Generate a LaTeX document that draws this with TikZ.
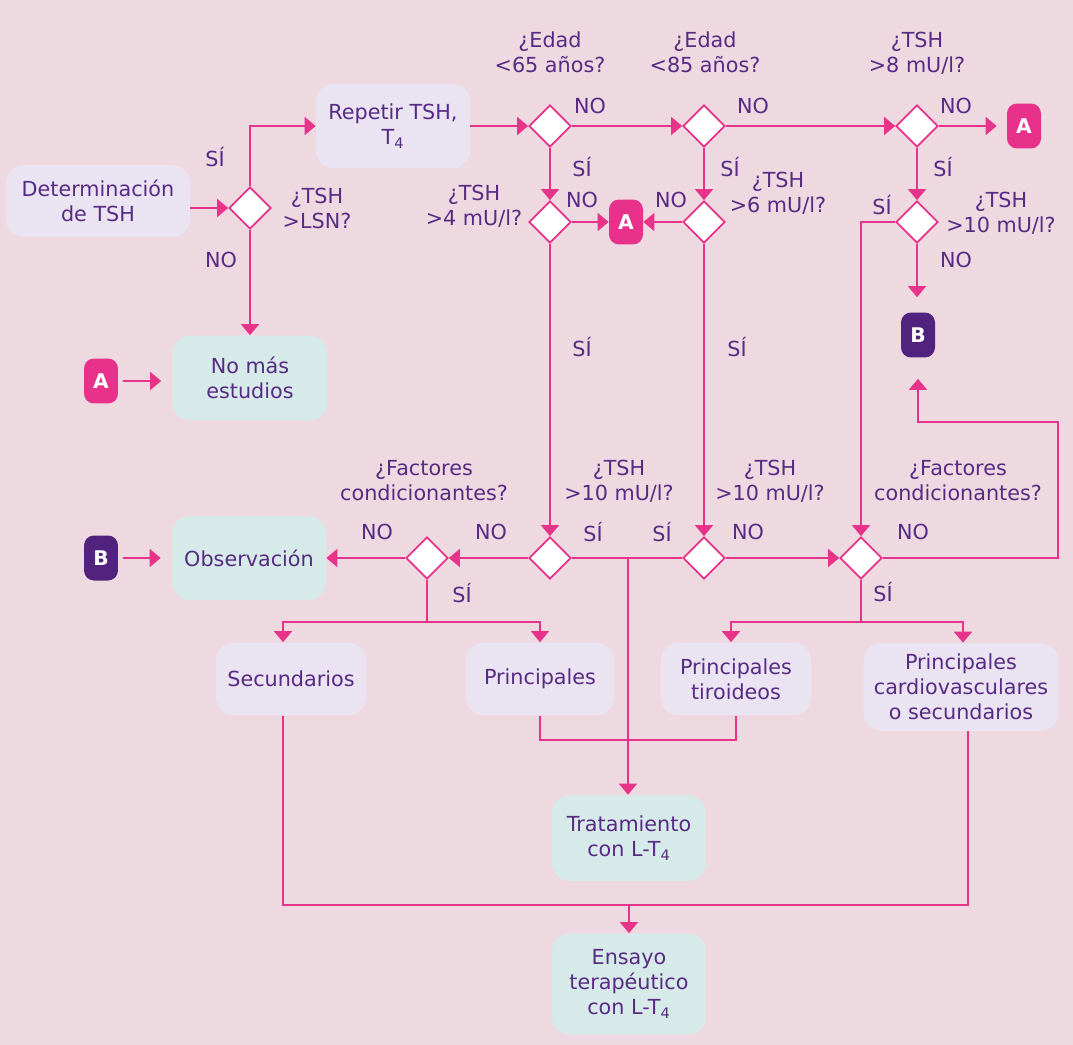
\documentclass[tikz,border=0pt]{standalone}
\usepackage{fontspec}
\setmainfont{DejaVu Sans}
\usetikzlibrary{shapes.geometric,arrows.meta}
\definecolor{bg}{HTML}{EFD9E1}
\definecolor{boxp}{HTML}{EAE4F2}
\definecolor{boxt}{HTML}{D6EBE9}
\definecolor{txt}{HTML}{582A84}
\definecolor{ln}{HTML}{E8338A}
\definecolor{badA}{HTML}{E8318A}
\definecolor{badB}{HTML}{51237E}
\begin{document}
\begin{tikzpicture}[x=0.02cm,y=-0.02cm,
  font=\fontsize{11.8}{14.2}\selectfont,
  every node/.style={text=txt},
  pbox/.style={rounded corners=0.36cm, fill=boxp, align=center, inner sep=0pt},
  tbox/.style={rounded corners=0.36cm, fill=boxt, align=center, inner sep=0pt},
  dia/.style={diamond, draw=ln, fill=white, line width=1pt, minimum width=0.84cm, minimum height=0.84cm, inner sep=0pt, aspect=1},
  badgeA/.style={rounded corners=0.2cm, fill=badA, text=white, font=\fontsize{11.5}{12}\selectfont\bfseries, minimum width=0.68cm, minimum height=0.9cm, inner sep=0pt},
  badgeB/.style={badgeA, fill=badB},
  lab/.style={align=center, inner sep=0pt},
  arr/.style={draw=ln, line width=1pt, -{Triangle[width=0.36cm,length=0.22cm]}},
  con/.style={draw=ln, line width=1pt}
]
\fill[bg] (0,0) rectangle (1073,1045);
\useasboundingbox (0,0) rectangle (1073,1045);

% boxes
\node[pbox, minimum width=3.68cm, minimum height=1.44cm] (det) at (98,201) {Determinación\\de TSH};
\node[pbox, minimum width=3.08cm, minimum height=1.7cm] (rep) at (393,126) {Repetir TSH,\\T\textsubscript{4}};
\node[tbox, minimum width=3.1cm, minimum height=1.7cm] (nomas) at (250,378) {No más\\estudios};
\node[tbox, minimum width=3.08cm, minimum height=1.68cm] (obs) at (249,558) {Observación};
\node[pbox, minimum width=3.0cm, minimum height=1.46cm] (sec) at (291,679) {Secundarios};
\node[pbox, minimum width=2.96cm, minimum height=1.46cm] (pri) at (540,679) {Principales};
\node[pbox, minimum width=3.0cm, minimum height=1.46cm] (tir) at (736,679) {Principales\\tiroideos};
\node[pbox, minimum width=3.9cm, minimum height=1.76cm] (card) at (961,687) {Principales\\cardiovasculares\\o secundarios};
\node[tbox, minimum width=3.08cm, minimum height=1.72cm] (trat) at (629,838) {Tratamiento\\con L-T\textsubscript{4}};
\node[tbox, minimum width=3.08cm, minimum height=2.02cm] (ens) at (629,984) {Ensayo\\terapéutico\\con L-T\textsubscript{4}};

% diamonds
\node[dia] (d1) at (250,208) {};
\node[dia] (d2) at (550,126) {};
\node[dia] (d3) at (704,126) {};
\node[dia] (d4) at (917,126) {};
\node[dia] (d5) at (550,222) {};
\node[dia] (d6) at (704,222) {};
\node[dia] (d7) at (917,222) {};
\node[dia] (d8) at (427,558) {};
\node[dia] (d9) at (550,558) {};
\node[dia] (d10) at (704,558) {};
\node[dia] (d11) at (861,558) {};

% badges
\node[badgeA] (a1) at (1024,126) {A};
\node[badgeA] (a2) at (626,222) {A};
\node[badgeA] (a3) at (101,381) {A};
\node[badgeB] (b1) at (918,335) {B};
\node[badgeB] (b2) at (101,558) {B};

% connectors
\draw[arr] (det.east |- d1) -- (d1.west);
\draw[arr] (d1.north) |- (rep.west);
\draw[arr] (d1.south) -- (nomas.north);
\draw[arr, shorten <=0.1cm, shorten >=0.22cm] (a3.east) -- (a3.east -| nomas.west);
\draw[arr] (rep.east) -- (d2.west);
\draw[arr] (d2.east) -- (d3.west);
\draw[arr] (d3.east) -- (d4.west);
\draw[arr, shorten >=0.2cm] (d4.east) -- (d4.east -| a1.west);
\draw[arr] (d2.south) -- (d5.north);
\draw[arr] (d3.south) -- (d6.north);
\draw[arr] (d4.south) -- (d7.north);
\draw[arr] (d5.east) -- (a2.west);
\draw[arr] (d6.west) -- (a2.east);
\draw[arr, shorten >=0.3cm] (d7.south) -- (d7.south |- b1.north);
\draw[arr] (d7.west) -| (d11.north);
\draw[arr] (d5.south) -- (d9.north);
\draw[arr] (d6.south) -- (d10.north);
\draw[arr] (d9.west) -- (d8.east);
\draw[arr] (d8.west) -- (obs.east);
\draw[arr, shorten <=0.1cm, shorten >=0.22cm] (b2.east) -- (b2.east -| obs.west);
\draw[arr] (d10.east) -- (d11.west);
\draw[con] (d9.east) -- (d10.west);
\coordinate (j1) at (628,558);
\draw[arr] (j1) -- (j1 |- trat.north);
\coordinate (r1) at (1058,422);
\draw[arr, shorten >=0.42cm] (d11.east) -| (r1) -| (b1.south);
\coordinate (s8) at (427,622);
\draw[con] (d8.south) -- (s8);
\draw[arr] (s8) -| ([xshift=-0.16cm]sec.north);
\draw[arr] (s8) -| (pri.north);
\coordinate (s11) at (861,622);
\draw[con] (d11.south) -- (s11);
\draw[arr] (s11) -| ([xshift=-0.1cm]tir.north);
\draw[arr] (s11) -| ([xshift=0.04cm]card.north);
\draw[con] (pri.south) -- ++(0,24) -| (tir.south);
\draw[con] ([xshift=-0.16cm]sec.south) -- ++(0,189) -| ([xshift=0.14cm]card.south);
\coordinate (j2) at (629,905);
\draw[arr] (j2) -- (ens.north);

% labels
\node[lab] at (215,157) {SÍ};
\node[lab] at (317,208) {¿TSH\\>LSN?};
\node[lab] at (221,260) {NO};
\node[lab] at (550,52) {¿Edad\\<65 años?};
\node[lab] at (705,52) {¿Edad\\<85 años?};
\node[lab] at (917,53) {¿TSH\\>8 mU/l?};
\node[lab] at (590,106) {NO};
\node[lab] at (753,106) {NO};
\node[lab] at (956,106) {NO};
\node[lab] at (582,167) {SÍ};
\node[lab] at (730,167) {SÍ};
\node[lab] at (582,200) {NO};
\node[lab] at (671,200) {NO};
\node[lab] at (474,206) {¿TSH\\>4 mU/l?};
\node[lab] at (778,193) {¿TSH\\>6 mU/l?};
\node[lab] at (943,167) {SÍ};
\node[lab] at (882,205) {SÍ};
\node[lab] at (1001,213) {¿TSH\\>10 mU/l?};
\node[lab] at (956,260) {NO};
\node[lab] at (582,347) {SÍ};
\node[lab] at (737,347) {SÍ};
\node[lab] at (424,481) {¿Factores\\condicionantes?};
\node[lab] at (619,481) {¿TSH\\>10 mU/l?};
\node[lab] at (770,481) {¿TSH\\>10 mU/l?};
\node[lab] at (958,481) {¿Factores\\condicionantes?};
\node[lab] at (377,532) {NO};
\node[lab] at (491,532) {NO};
\node[lab] at (593,532) {SÍ};
\node[lab] at (662,532) {SÍ};
\node[lab] at (748,532) {NO};
\node[lab] at (913,532) {NO};
\node[lab] at (462,593) {SÍ};
\node[lab] at (883,592) {SÍ};
\end{tikzpicture}
\end{document}
